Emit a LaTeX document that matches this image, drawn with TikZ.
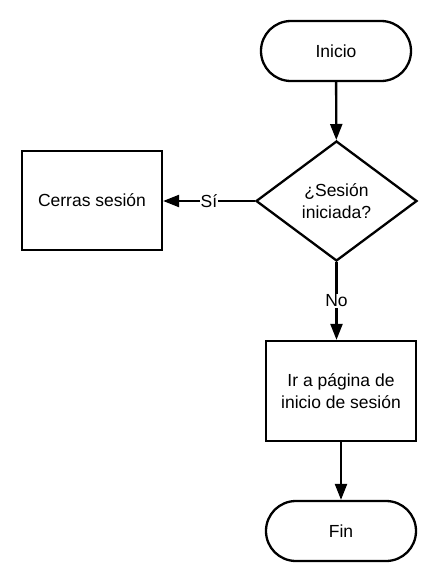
\documentclass[tikz,border=0pt]{standalone}
\usepackage{fontspec}
\setmainfont{Liberation Sans}
\usetikzlibrary{shapes.geometric,arrows.meta}

\begin{document}
\begin{tikzpicture}[x=1pt,y=-1pt,line width=2.3pt,
    font=\fontsize{17.5}{21.5}\selectfont,
    terminal/.style={draw, rectangle, rounded corners=29.9pt, minimum width=150pt, minimum height=60pt},
    process/.style={draw, rectangle, align=center, minimum width=150pt, minimum height=100pt},
    decision/.style={draw, diamond, aspect=1.34, inner sep=0pt, align=center, minimum width=161pt, minimum height=120pt},
    flow/.style={-{Triangle[length=16pt,width=12pt]}},
    lbl/.style={midway, fill=white, inner sep=1pt}]
        \useasboundingbox (0,0) rectangle (437,582);
        % Draw start and end
        \node[terminal] (inicio) at (336,51) {Inicio};
        \node[terminal] (fin) at (341,531) {Fin};
        % Draw decision
        \node[decision] (sesion) at (336.5,201) {¿Sesión\\iniciada?};
        % Draw processes
        \node[process, minimum width=140pt, minimum height=99pt] (cerrar) at (92,200.5) {Cerras sesión};
        \node[process] (login) at (341,391) {Ir a página de\\inicio de sesión};
        % Add arrows
        \draw[flow] (inicio) -- (sesion);
        \draw[flow] (sesion.west) -- (sesion.west -| cerrar.east) node[lbl] {Sí};
        \draw[flow] (sesion.south) -- (sesion.south |- login.north) node[lbl] {No};
        \draw[flow] (login) -- (fin);
    \end{tikzpicture}
\end{document}
